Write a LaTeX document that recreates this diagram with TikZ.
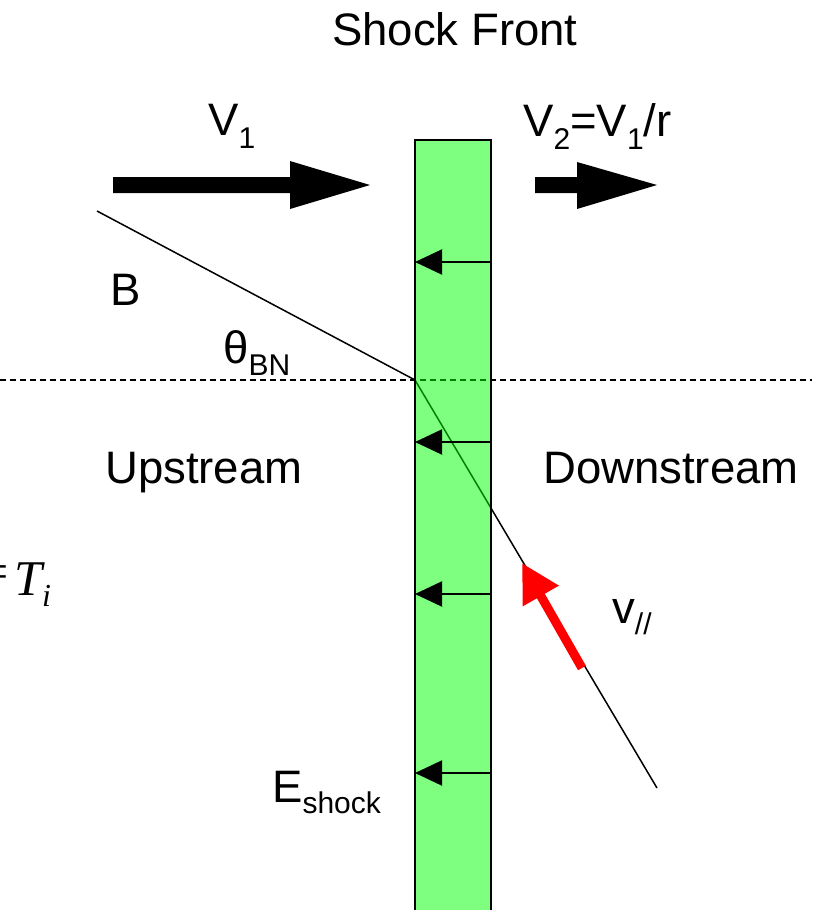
\documentclass[tikz,border=0pt]{standalone}
\usepackage{fontspec}
\setmainfont{Liberation Sans}
\newfontfamily\timesfont{Liberation Serif}
\usetikzlibrary{arrows.meta}
\newcommand\lowsub[2][12pt]{\raisebox{-#1}{\fontsize{30}{30}\selectfont #2}}
\tikzset{
  lbl/.style={anchor=base west,inner sep=0pt,font=\fontsize{45.5}{46}\selectfont},
  thinline/.style={line width=1.5pt},
  smallarr/.style={line width=2pt,-{Triangle[length=27pt,width=25pt]}},
  redarr/.style={draw=red,line width=9pt,-{Triangle[length=38pt,width=39pt]}},
  bigarr/.style={fill=black,draw=none}
}
\begin{document}
\begin{tikzpicture}[x=1pt,y=-1pt]
\useasboundingbox (0,0) rectangle (821,910);
% field line and normal
\coordinate (b0) at (97,211);
\coordinate (b1) at (415,380);
\coordinate (b2) at (657,788);
\coordinate (d0) at (0,380);
\coordinate (d1) at (812,380);
\draw[thinline] (b0) -- (b1) -- (b2);
\draw[line width=1.5pt,dash pattern=on 6pt off 4pt] (d0) -- (d1);
% shock front slab
\fill[green,fill opacity=0.5] (415,140) rectangle (491,915);
\draw[line width=2pt] (415,915) -- (415,140) -- (491,140) -- (491,915);
% electric field arrows
\foreach \y/\n in {262/a,442/b,594/c,773/d}{
  \coordinate (er\n) at (491,\y);
  \coordinate (el\n) at (415,\y);
  \draw[smallarr] (er\n) -- (el\n);
}
% red arrow
\coordinate (r0) at (582,668);
\coordinate (r1) at (522,563);
\draw[redarr] (r0) -- (r1);
% big velocity arrows
\fill[bigarr] (113,177) -- (290,177) -- (290,161) -- (370,185) -- (290,209) -- (290,193) -- (113,193) -- cycle;
\fill[bigarr] (535,177) -- (577,177) -- (577,162) -- (657,185) -- (577,209) -- (577,193) -- (535,193) -- cycle;
% labels
\node[lbl] (title) at (332,45) {Shock Front};
\node[lbl] (v1) at (208,135) {V\lowsub[13pt]{1}};
\node[lbl] (v2) at (523,136) {V\lowsub[13pt]{2}=V\lowsub[13pt]{1}/r};
\node[lbl] (B) at (110,305) {B};
\node[lbl] (theta) at (223,363) {θ\lowsub[12pt]{BN}};
\node[lbl] (up) at (105,483) {Upstream};
\node[lbl] (down) at (543,483) {Downstream};
\node[lbl] (E) at (272,802) {E\lowsub[11pt]{shock}};
\node[lbl] (vpar) at (612,623) {v\lowsub[11pt]{//}};
\node[anchor=east,inner sep=0pt,font=\timesfont\fontsize{50}{50}\selectfont] (eq) at (9,577) {=};
\node[anchor=base west,inner sep=0pt,font=\timesfont\itshape\fontsize{50}{50}\selectfont] (T) at (14,595) {T};
\node[anchor=base west,inner sep=0pt,font=\timesfont\itshape\fontsize{32}{32}\selectfont] (Ti) at (42,606) {i};
\end{tikzpicture}
\end{document}
